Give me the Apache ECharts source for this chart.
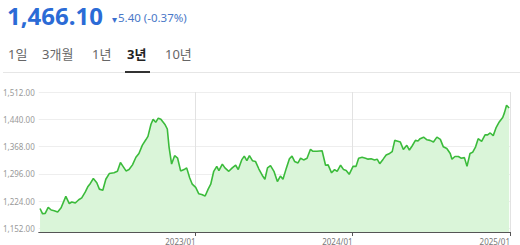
<!DOCTYPE html>
<html><head><meta charset="utf-8">
<script src="https://cdn.jsdelivr.net/npm/echarts@6/dist/echarts.min.js"></script>
<style>html,body{margin:0;padding:0;background:#fff;}#c{width:520px;height:245px;}</style>
</head><body><div id="c"></div>
<script>
// ---- data ----
const priceText = '1,466.10';
const changeText = '5.40 (-0.37%)';
const tabs = ['1일', '3개월', '1년', '3년', '10년'];
const activeTab = '3년';
// x = days since 2022-01-01 of each sampled point
const dayOffsets = [3,9,15,22,29,36,44,52,63,71,77,85,93,100,108,114,120,127,135,141,149,156,164,175,183,190,196,203,210,218,226,233,241,249,254,261,266,272,278,284,294,299,303,309,316,323,330,338,344,351,357,365,372,379,387,394,400,407,414,419,427,433,442,450,458,464,472,478,484,490,497,504,512,520,526,532,539,547,555,562,568,576,583,589,595,603,609,616,624,632,637,647,659,667,673,681,688,694,702,709,715,722,731,738,744,752,760,766,773,781,787,793,801,808,816,822,828,833,841,848,856,862,868,876,882,887,895,903,910,918,926,934,941,949,957,961,968,976,982,990,996,1003,1009,1016,1022,1030,1038,1044,1050,1057,1064,1071,1079,1083,1088,1094];
const prices = [1205,1191,1192,1208,1201,1199,1196,1207,1237,1218,1222,1219.5,1228,1233,1248,1262,1271,1284,1273,1256,1253,1282,1297,1299,1303,1326,1316,1304,1307.5,1320,1340,1350,1372,1386,1395,1427,1440,1432,1443,1440,1425.5,1414.5,1367.5,1322,1344,1337.5,1304,1307.5,1312,1286,1269,1260.5,1244,1242,1238,1256,1269,1303,1316,1305,1322,1312,1303,1312,1319,1307.5,1333,1343,1331,1344.5,1331,1329,1309,1292,1282,1312,1318,1303,1276,1290.5,1282,1312,1336,1343,1329,1325,1337.5,1333,1337.5,1361,1356,1356,1357,1319,1320,1299,1307.5,1303,1319,1307.5,1305,1295,1316,1316,1337.5,1340,1337.5,1335,1336,1333,1335,1323,1335,1346,1350,1355,1384.5,1383,1380,1360.5,1371.5,1359,1369,1384.5,1383,1389,1393,1386,1384.5,1380,1393,1387,1367.5,1363,1350,1335,1342,1342,1337.5,1339,1316,1350,1353,1367.5,1389,1382,1399,1399,1404,1397,1419,1433,1445,1457,1477,1470];
const yTicks = [1152, 1224, 1296, 1368, 1440, 1512];
const xTickDays = [365, 730, 1096];
const xTickLabels = ['2023/01', '2024/01', '2025/01'];

// ---- build ----
const seriesData = dayOffsets.map((d, i) => [d, prices[i]]);
const fmtNum = v => v.toLocaleString('en-US', {minimumFractionDigits: 2, maximumFractionDigits: 2});

const font = '"Noto Sans", "Noto Sans CJK KR", sans-serif';
const tabX = [8, 42, 92, 127, 165];
const graphics = [
  {type: 'text', left: 7, top: 3, style: {text: priceText, font: 'bold 24px ' + font, fill: '#2b6bd6'}},
  {type: 'text', left: 112, top: 14, style: {text: '▾', font: '10px ' + font, fill: '#3a6fd0'}},
  {type: 'text', left: 118, top: 12, style: {text: changeText, font: '11.5px ' + font, fill: '#4a78c8'}},
  {type: 'rect', shape: {x: 3, y: 72, width: 517, height: 1}, style: {fill: '#e6e6e6'}},
  {type: 'rect', shape: {x: 125, y: 71, width: 25, height: 2}, style: {fill: '#333'}}
];
tabs.forEach((t, i) => {
  const active = t === activeTab;
  graphics.push({type: 'text', left: tabX[i], top: 47,
    style: {text: t, font: (active ? 'bold ' : '') + '13px ' + font, fill: active ? '#222' : '#666'}});
});

const chart = echarts.init(document.getElementById('c'), null, {renderer: 'svg'});
chart.setOption({
  animation: false,
  graphic: graphics,
  grid: {left: 37.7, right: 10, top: 92, bottom: 9.5, containLabel: false},
  xAxis: {
    type: 'value', min: 0, max: 1096,
    axisLine: {show: true, lineStyle: {color: '#555', width: 1}},
    axisTick: {show: true, customValues: xTickDays, length: 4, lineStyle: {color: '#555'}},
    axisLabel: {customValues: xTickDays, align: 'right', margin: 5, fontSize: 8, color: '#777',
      fontFamily: font, formatter: v => xTickLabels[xTickDays.indexOf(v)] || ''},
    splitLine: {show: true, lineStyle: {color: '#e2e2e2', width: 1}}
  },
  yAxis: {
    type: 'value', min: 1143, max: 1512,
    axisLine: {show: false}, axisTick: {show: false, customValues: yTicks},
    axisLabel: {customValues: yTicks, fontSize: 8, color: '#999', fontFamily: font, margin: 4,
      formatter: v => fmtNum(v)},
    splitLine: {show: true, lineStyle: {color: '#eeeeee', width: 1}}
  },
  series: [{
    type: 'line', data: seriesData, showSymbol: false, symbol: 'none',
    lineStyle: {color: '#3bbb3b', width: 1.6},
    areaStyle: {color: '#daf5d9', opacity: 1}
  }]
});
</script></body></html>
